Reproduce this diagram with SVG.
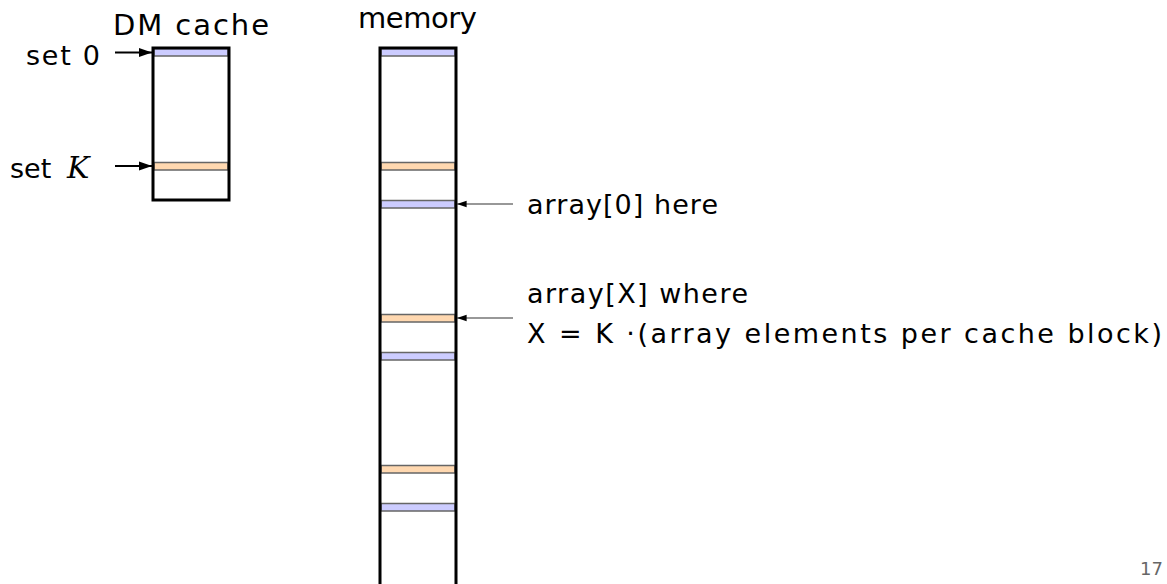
<svg xmlns="http://www.w3.org/2000/svg" width="1167" height="584" viewBox="0 0 1167 584">
<defs>
<style>
.t{font-family:"DejaVu Sans","Liberation Sans",sans-serif;fill:#000;}
.box{fill:none;stroke:#000;stroke-width:3;}
.blue{fill:#ccccff;stroke:#666;stroke-width:1.5;}
.orange{fill:#ffd8b0;stroke:#666;stroke-width:1.5;}
.thick{stroke:#000;stroke-width:2;fill:none;}
.thin{stroke:#333;stroke-width:1.2;fill:none;}
.pg{font-family:"DejaVu Sans","Liberation Sans",sans-serif;fill:#666;}
</style>
<marker id="ah" viewBox="0 0 10 10" refX="10" refY="5" markerWidth="6.5" markerHeight="6.5" orient="auto" markerUnits="strokeWidth">
<path d="M0,1.5 L10,5 L0,8.5 Z" fill="#000"/>
</marker>
<marker id="ah2" viewBox="0 0 10 10" refX="10" refY="5" markerWidth="8" markerHeight="8" orient="auto" markerUnits="strokeWidth">
<path d="M0,1.5 L10,5 L0,8.5 Z" fill="#000"/>
</marker>
</defs>
<rect width="1167" height="584" fill="#fff"/>

<g id="cache">
<text class="t" x="113" y="35" font-size="29" textLength="156" lengthAdjust="spacing">DM cache</text>
<rect class="blue" x="154" y="48.5" width="74" height="7.5"/>
<rect class="orange" x="154" y="162.5" width="74" height="7.5"/>
<rect class="box" x="153" y="48" width="76" height="152"/>
</g>

<g id="memory">
<text class="t" x="358" y="28" font-size="29" textLength="119" lengthAdjust="spacing">memory</text>
<rect class="blue" x="381" y="48.5" width="74" height="7.5"/>
<rect class="orange" x="381" y="162.5" width="74" height="7.5"/>
<rect class="blue" x="381" y="200.5" width="74" height="7.5"/>
<rect class="orange" x="381" y="314.5" width="74" height="7.5"/>
<rect class="blue" x="381" y="352.5" width="74" height="7.5"/>
<rect class="orange" x="381" y="465.5" width="74" height="7.5"/>
<rect class="blue" x="381" y="503.5" width="74" height="7.5"/>
<path class="box" d="M380,590 V48 H456 V590"/>
</g>

<g id="label-set0">
<text class="t" x="26" y="65" font-size="27" textLength="74" lengthAdjust="spacing">set 0</text>
</g>
<g id="label-setK">
<text class="t" x="10" y="178" font-size="27">set<tspan x="67" font-family="'DejaVu Serif','Liberation Serif',serif" font-style="italic" font-size="30">K</tspan></text>
</g>
<g id="label-array0">
<text class="t" x="527" y="214" font-size="27" textLength="191" lengthAdjust="spacing">array[0] here</text>
</g>
<g id="label-arrayX">
<text class="t" x="527" y="303" font-size="27" textLength="221" lengthAdjust="spacing">array[X] where</text>
<text class="t" x="527" y="343" font-size="27" textLength="635" lengthAdjust="spacing">X = K ·(array elements per cache block)</text>
</g>

<g id="connectors">
<line class="thick" x1="115" y1="52.5" x2="152" y2="52.5" marker-end="url(#ah)"/>
<line class="thick" x1="115" y1="166" x2="152" y2="166" marker-end="url(#ah)"/>
<line class="thin" x1="513" y1="204" x2="457" y2="204" marker-end="url(#ah2)"/>
<line class="thin" x1="513" y1="318" x2="457" y2="318" marker-end="url(#ah2)"/>
</g>

<text class="pg" x="1163" y="575" font-size="18" text-anchor="end">17</text>
</svg>
